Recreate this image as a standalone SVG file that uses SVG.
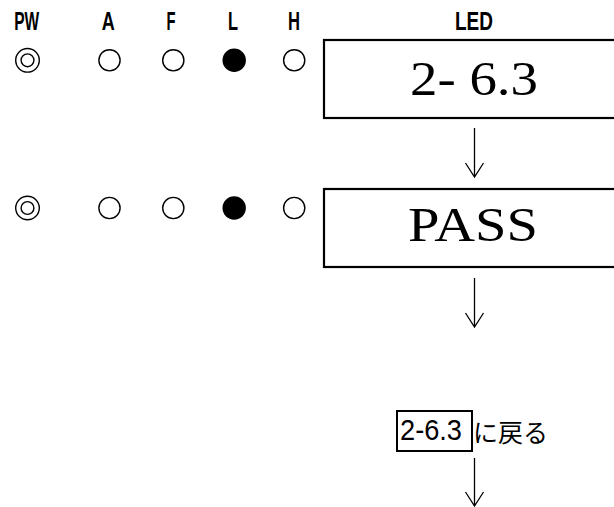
<svg xmlns="http://www.w3.org/2000/svg" width="614" height="507" viewBox="0 0 614 507">
<style>
.lbl{font-family:"Liberation Sans",Arial,sans-serif;font-size:26px;font-weight:bold;fill:#000;text-anchor:middle}
.ring{fill:none;stroke:#000;stroke-width:1.4}
.on{fill:#000;stroke:none}
.big{font-family:"Liberation Serif","Times New Roman",serif;font-size:48px;fill:#000;text-anchor:middle}
.box{fill:none;stroke:#000;stroke-width:2.2}
.arr{fill:none;stroke:#000;stroke-width:1.3}
.jp{font-family:"Noto Sans CJK JP",sans-serif;font-size:25px;fill:#000}
.num{font-family:"Liberation Sans",Arial,sans-serif;font-size:30px;fill:#000;text-anchor:middle}
</style>
<rect width="614" height="507" fill="#fff"/>
<g id="labels">
<text class="lbl" x="26.7" y="30" textLength="25" lengthAdjust="spacingAndGlyphs">PW</text>
<text class="lbl" x="108.3" y="30" textLength="13" lengthAdjust="spacingAndGlyphs">A</text>
<text class="lbl" x="171" y="30" textLength="9" lengthAdjust="spacingAndGlyphs">F</text>
<text class="lbl" x="233" y="30" textLength="10" lengthAdjust="spacingAndGlyphs">L</text>
<text class="lbl" x="294" y="30" textLength="12" lengthAdjust="spacingAndGlyphs">H</text>
<text class="lbl" x="474" y="30" textLength="38" lengthAdjust="spacingAndGlyphs">LED</text>
</g>
<g id="lamps1">
<circle class="ring" cx="27.5" cy="60.3" r="11.8"/>
<circle class="ring" cx="27.5" cy="60.3" r="6.4"/>
<circle class="ring" cx="109.5" cy="60.3" r="10.6"/>
<circle class="ring" cx="173.3" cy="60.3" r="10.6"/>
<circle class="on" cx="234.2" cy="60.3" r="11.7"/>
<circle class="ring" cx="294.2" cy="60.3" r="10.6"/>
</g>
<g id="lamps2">
<circle class="ring" cx="27.5" cy="208" r="11.8"/>
<circle class="ring" cx="27.5" cy="208" r="6.4"/>
<circle class="ring" cx="109.5" cy="208" r="10.6"/>
<circle class="ring" cx="173.3" cy="208" r="10.6"/>
<circle class="on" cx="234.2" cy="208" r="11.7"/>
<circle class="ring" cx="294.2" cy="208" r="10.6"/>
</g>
<g id="led1">
<rect class="box" x="324" y="40" width="310" height="78"/>
<text class="big" x="474" y="95" textLength="128" lengthAdjust="spacingAndGlyphs">2- 6.3</text>
</g>
<g id="led2">
<rect class="box" x="324" y="189" width="310" height="78"/>
<text class="big" x="473" y="241" textLength="130" lengthAdjust="spacingAndGlyphs">PASS</text>
</g>
<g id="return">
<rect x="397" y="411" width="75" height="40" fill="none" stroke="#000" stroke-width="2"/>
<text class="num" x="431" y="440" textLength="62" lengthAdjust="spacingAndGlyphs">2-6.3</text>
<text class="jp" x="473" y="442">に戻る</text>
</g>
<g id="connectors">
<path class="arr" d="M474.5 128V177M465.5 163L474.5 177L483.5 163"/>
<path class="arr" d="M474.5 278V327M465.5 313L474.5 327L483.5 313"/>
<path class="arr" d="M474.5 458V506M465.5 492L474.5 506L483.5 492"/>
</g>
</svg>
